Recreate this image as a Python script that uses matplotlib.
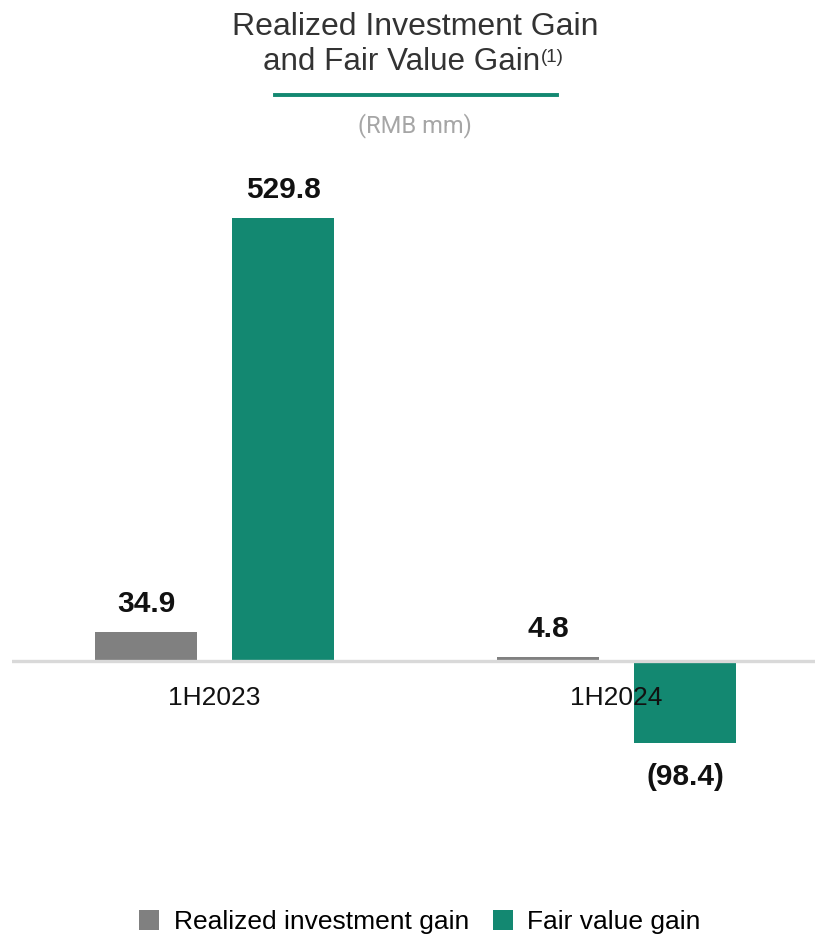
import matplotlib.pyplot as plt
import numpy as np

plt.rcParams['font.family'] = ['Liberation Sans', 'DejaVu Sans']

periods = ['1H2023', '1H2024']
realized_gain = [34.9, 4.8]
fair_value_gain = [529.8, -98.4]
series_names = ['Realized investment gain', 'Fair value gain']

GRAY = '#808080'
TEAL = '#138871'


def fmt(v):
    return f'({abs(v):.1f})' if v < 0 else f'{v:.1f}'


fig = plt.figure(figsize=(8.15, 9.38), dpi=100)
ax = fig.add_axes([12 / 815, 1 - 860 / 938, 1 - 12 / 815, 700 / 938])

x = np.arange(len(periods))
width = 0.254
offset = 0.1704

b1 = ax.bar(x - offset, realized_gain, width, color=GRAY, label=series_names[0], zorder=1)
b2 = ax.bar(x + offset, fair_value_gain, width, color=TEAL, label=series_names[1], zorder=1)

# value labels above positive bars, below negative ones
for bars, vals in ((b1, realized_gain), (b2, fair_value_gain)):
    for rect, v in zip(bars, vals):
        cx = rect.get_x() + rect.get_width() / 2
        if v >= 0:
            ax.annotate(fmt(v), (cx, v), xytext=(0, 10), textcoords='offset points',
                        ha='center', va='bottom', fontsize=21.5, fontweight='bold', color='#111111')
        else:
            ax.annotate(fmt(v), (cx, v), xytext=(0, -14), textcoords='offset points',
                        ha='center', va='top', fontsize=21.5, fontweight='bold', color='#111111')

ax.axhline(0, color='#d9d9d9', linewidth=2.4, zorder=2)

# category labels sit right under the zero line
ax.spines['bottom'].set_position(('data', 0))
for s in ax.spines.values():
    s.set_visible(False)

ax.set_xlim(-0.504, 1.494)
ax.set_ylim(-238, 599.3)
ax.set_xticks(x)
ax.set_xticklabels(periods, fontsize=19, color='#111111')
ax.tick_params(axis='x', length=0, pad=18)
ax.set_yticks([])
for lbl in ax.get_xticklabels():
    lbl.set_zorder(5)

# title block
fig.text(415 / 815, 1 - 27 / 938, 'Realized Investment Gain', ha='center', va='center',
         fontsize=23, color='#333333')
fig.text(540 / 815, 1 - 62 / 938, 'and Fair Value Gain', ha='right', va='center',
         fontsize=22.6, color='#333333')
fig.text(541 / 815, 1 - 57 / 938, '(1)', ha='left', va='center',
         fontsize=13.5, color='#333333')
fig.add_artist(plt.Line2D([275 / 815, 557 / 815], [1 - 95 / 938, 1 - 95 / 938],
                          color=TEAL, linewidth=2.8, transform=fig.transFigure))
fig.text(415 / 815, 1 - 126 / 938, '(RMB mm)', ha='center', va='center',
         fontsize=17, color='#a6a6a6', family=['Roboto', 'DejaVu Sans'])

fig.legend(handles=[b1, b2], labels=series_names, loc='center', bbox_to_anchor=(420 / 815, 1 - 922 / 938),
           ncol=2, frameon=False, fontsize=19, handlelength=0.76, handleheight=0.76,
           handletextpad=0.55, columnspacing=0.9, borderaxespad=0)

fig.savefig('out.png', dpi=100)
